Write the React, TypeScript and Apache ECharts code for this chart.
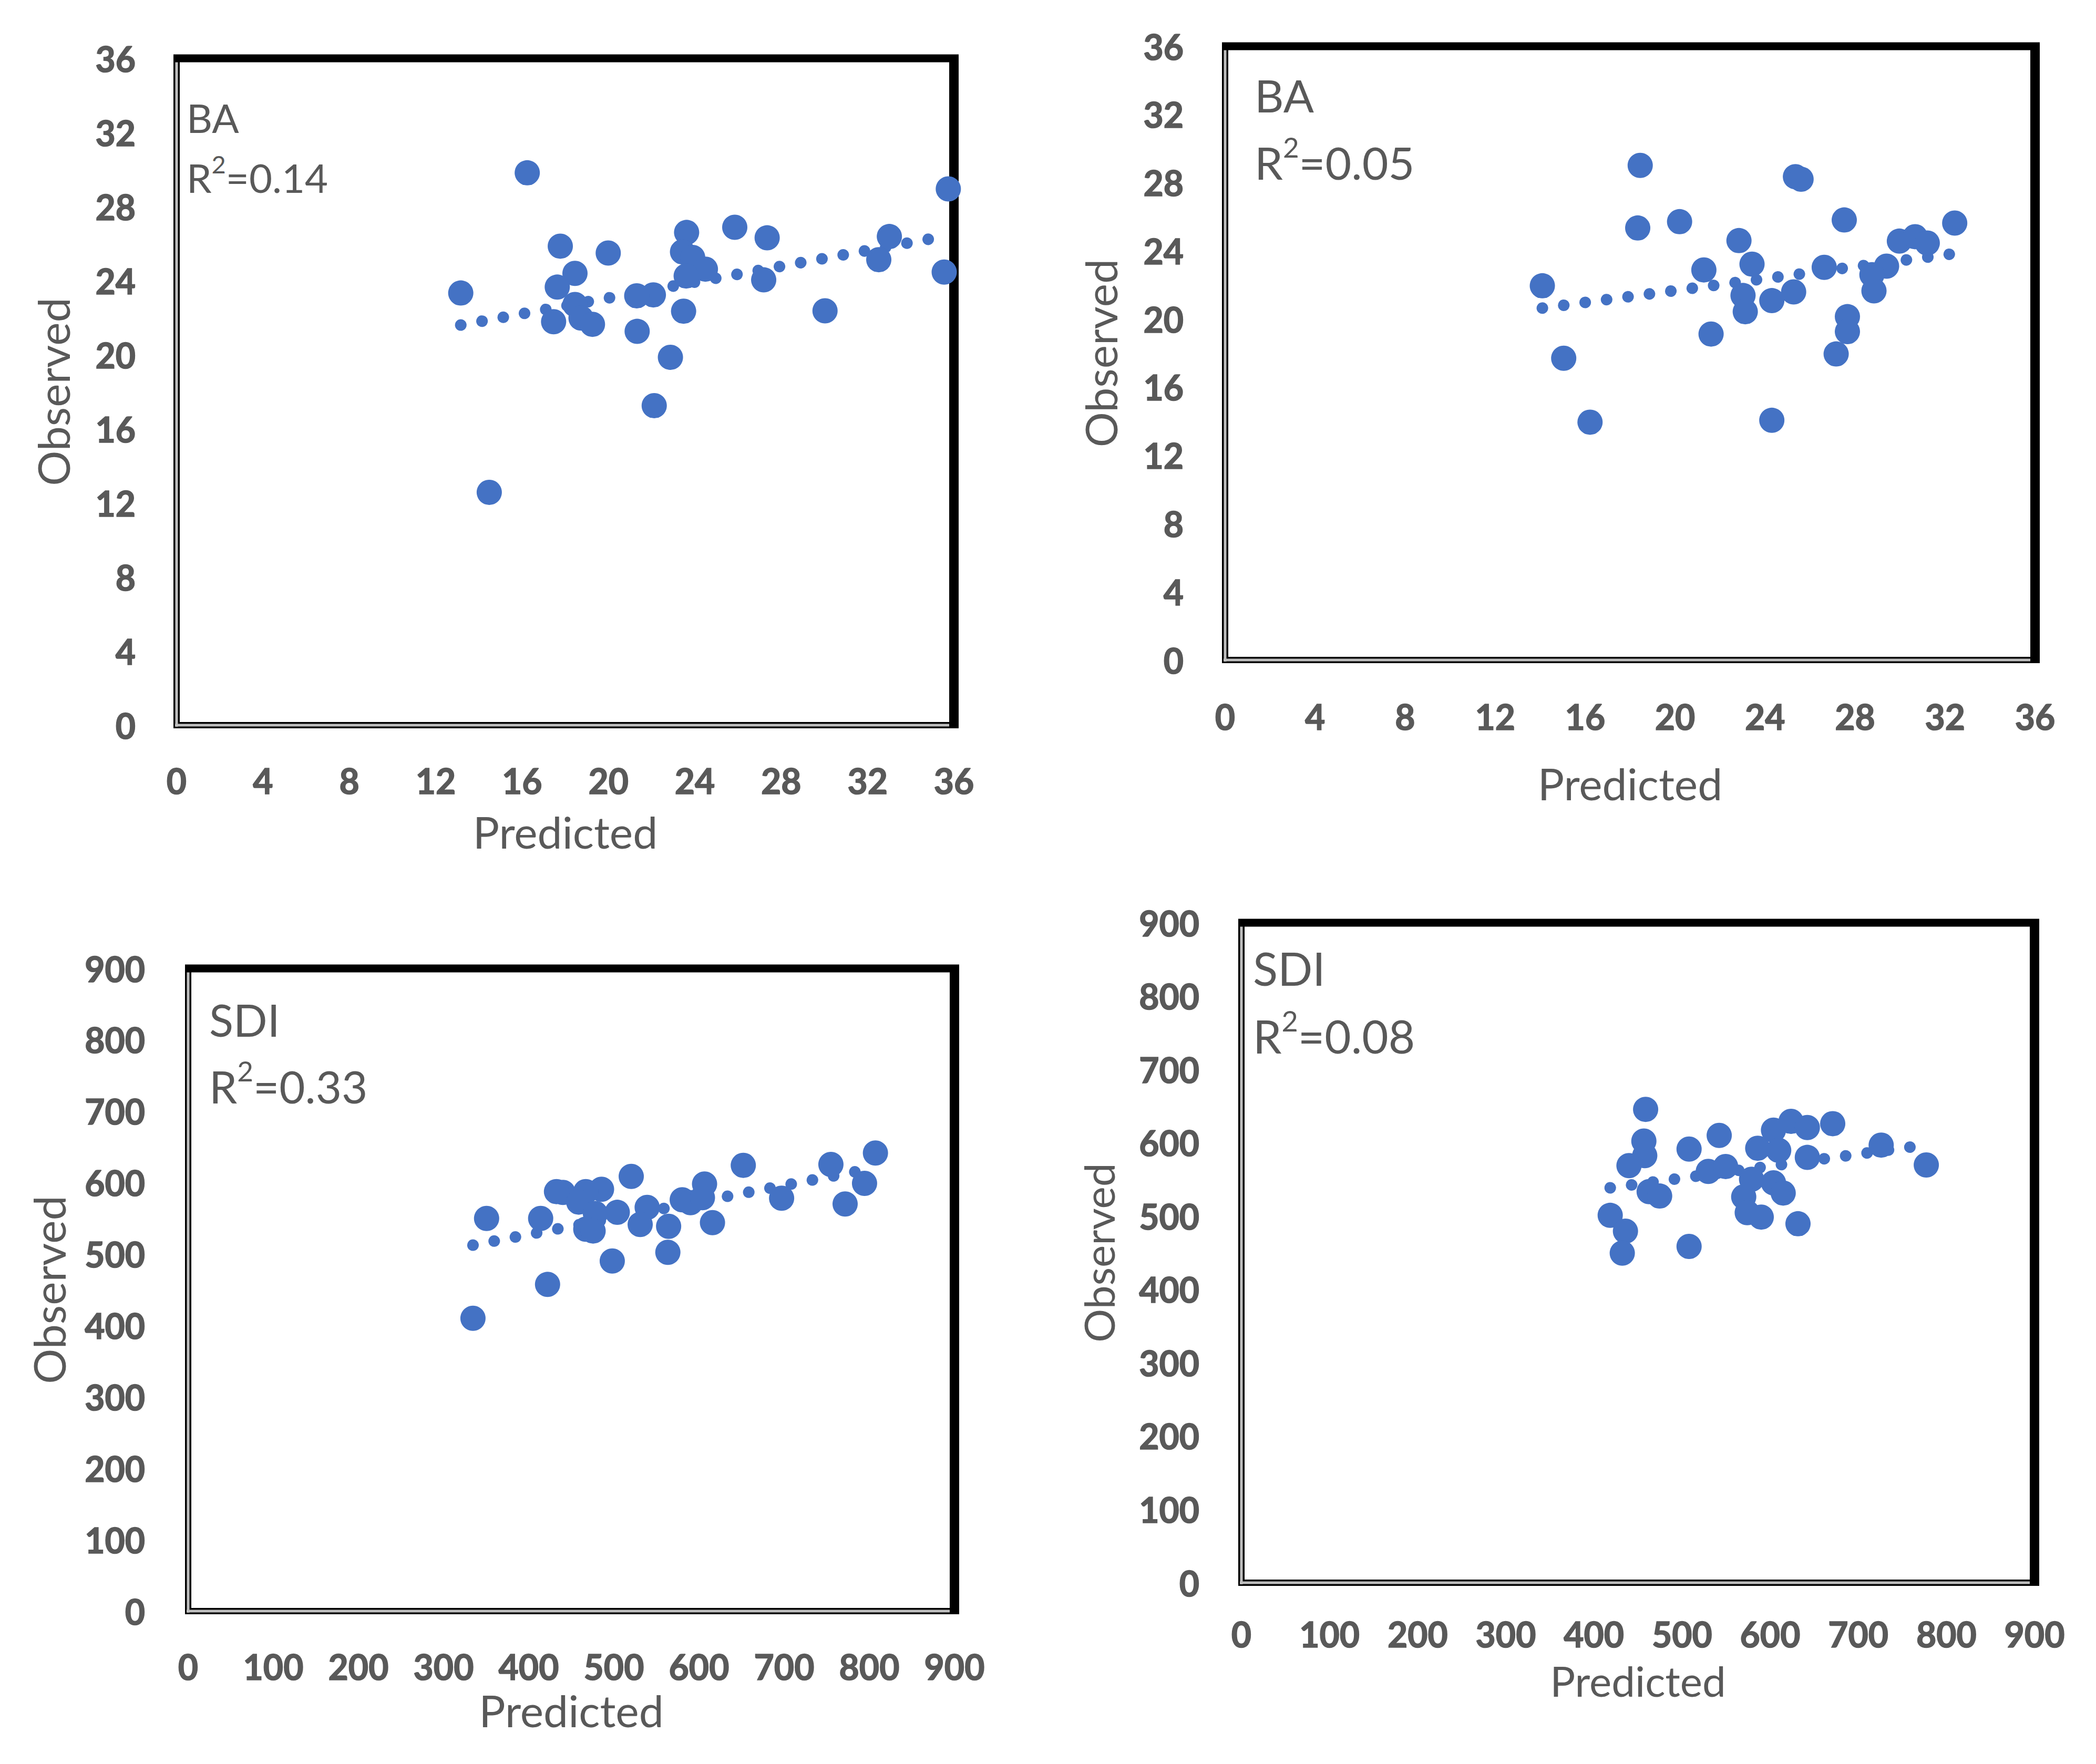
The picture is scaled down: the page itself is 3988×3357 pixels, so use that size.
import React, { useEffect, useRef } from "react";
import * as echarts from "echarts";

const W = 3988;
const H = 3357;

// ---- Panel 1: BA, R2 = 0.14 ----
const ba1Pred = [16.24, 35.74, 25.85, 23.62, 33.01, 27.35, 17.77, 23.43, 19.99, 23.9, 32.52, 24.49, 35.55, 18.45, 23.6, 27.19, 17.63, 13.16, 22.08, 21.31, 18.45, 23.48, 30.03, 18.73, 17.46, 19.26, 21.33, 22.87, 22.12, 14.48];
const ba1Obs = [29.82, 28.95, 26.88, 26.6, 26.38, 26.31, 25.86, 25.55, 25.49, 25.25, 25.13, 24.62, 24.46, 24.39, 24.25, 24.04, 23.65, 23.33, 23.23, 23.18, 22.71, 22.35, 22.37, 21.98, 21.78, 21.64, 21.26, 19.86, 17.25, 12.57];
const ba1TrendX = [13.16, 35.74];
const ba1TrendY = [21.6, 26.43];

// ---- Panel 2: BA, R2 = 0.05 ----
const ba2Pred = [18.45, 25.35, 25.6, 27.52, 32.43, 20.2, 18.34, 29.97, 30.67, 31.21, 22.84, 23.42, 26.63, 29.4, 21.28, 28.75, 14.1, 28.84, 25.27, 23.02, 24.3, 23.12, 27.66, 27.66, 21.6, 27.16, 15.05, 16.22, 24.3];
const ba2Obs = [29.01, 28.35, 28.2, 25.81, 25.63, 25.71, 25.34, 24.57, 24.83, 24.46, 24.6, 23.22, 23.03, 23.1, 22.88, 22.6, 21.95, 21.65, 21.59, 21.38, 21.08, 20.43, 20.14, 19.26, 19.12, 17.95, 17.7, 13.95, 14.06];
const ba2TrendX = [14.1, 32.43];
const ba2TrendY = [20.64, 23.84];

// ---- Panel 3: SDI, R2 = 0.33 ----
const sdi1Pred = [807.2, 652, 754.9, 520.4, 606.5, 794.4, 485.5, 440.2, 432.6, 467, 697, 580.3, 590, 604, 458.7, 771.6, 539.1, 504, 478.3, 414, 350.5, 615.8, 530.9, 564.3, 467, 475.6, 563.4, 498.1, 422.1, 334.5];
const sdi1Obs = [641.5, 624.3, 625.5, 608.8, 598.1, 599, 590.7, 586.3, 587.5, 587.5, 578.2, 576, 572, 579, 572.8, 570.1, 565.4, 558.5, 556.8, 549.9, 549.9, 544, 541.4, 538.9, 534.8, 532.3, 502.4, 490.3, 457.5, 410.1];
const sdi1TrendX = [334.5, 807.2];
const sdi1TrendY = [512.5, 620.7];

// ---- Panel 4: SDI, R2 = 0.08 ----
const sdi2Pred = [458.7, 456.7, 457.7, 439.8, 508, 542.2, 529.8, 549.5, 585.9, 603.8, 623.7, 642.2, 671, 609.7, 642.2, 578.9, 603.8, 614.8, 570, 574, 589.9, 631.6, 726, 777.2, 462.7, 474.6, 418.5, 435.8, 432.2, 508];
const sdi2Obs = [645.5, 602.3, 582.4, 568.8, 591.3, 610, 560.9, 567.6, 592.5, 617.2, 629.2, 620.7, 626, 589.6, 580, 550.1, 545.3, 531.4, 526.2, 504.6, 498.6, 489.5, 596.8, 569.7, 533.3, 527.3, 501, 479.4, 449.5, 458.6];
const sdi2TrendX = [418.5, 777.2];
const sdi2TrendY = [538.5, 597.0];

// ---- Text ----
const panelLabels = ["BA", "BA", "SDI", "SDI"];
const r2Values = ["0.14", "0.05", "0.33", "0.08"];
const axisMax = [36, 36, 900, 900];
const axisStep = [4, 4, 100, 100];
const xTitle = "Predicted";
const yTitle = "Observed";

// ---- Layout (pixels) ----
const layouts = [
  { L: 336, T: 111, R: 1815, B: 1380, yMargin: 78, xMargin: 72, xNameGap: 160, yNameGap: 194, annX: 355, annY1: 223, annY2: 332, annFont: 76, nameFont: 84 },
  { L: 2331, T: 88, R: 3872, B: 1256, yMargin: 79, xMargin: 74, xNameGap: 192, yNameGap: 196, annX: 2387, annY1: 180, annY2: 302, annFont: 86, nameFont: 84 },
  { L: 358, T: 1843, R: 1816, B: 3066, yMargin: 82, xMargin: 72, xNameGap: 146, yNameGap: 224, annX: 398, annY1: 1940, annY2: 2060, annFont: 85, nameFont: 84 },
  { L: 2362, T: 1756, R: 3871, B: 3012, yMargin: 80, xMargin: 64, xNameGap: 146, yNameGap: 232, annX: 2384, annY1: 1842, annY2: 1965, annFont: 87, nameFont: 80 },
];

const BLUE = "#4472C4";
const GRAY_TEXT = "#595959";
const FONT = "Lato, 'Open Sans', sans-serif";

const panelData = [
  { pred: ba1Pred, obs: ba1Obs, tx: ba1TrendX, ty: ba1TrendY },
  { pred: ba2Pred, obs: ba2Obs, tx: ba2TrendX, ty: ba2TrendY },
  { pred: sdi1Pred, obs: sdi1Obs, tx: sdi1TrendX, ty: sdi1TrendY },
  { pred: sdi2Pred, obs: sdi2Obs, tx: sdi2TrendX, ty: sdi2TrendY },
];

function buildOption() {
  const grid: any[] = [];
  const xAxis: any[] = [];
  const yAxis: any[] = [];
  const series: any[] = [];
  const graphic: any[] = [];

  layouts.forEach((p, i) => {
    grid.push({
      left: p.L,
      top: p.T,
      width: p.R - p.L,
      height: p.B - p.T,
      containLabel: false,
      outerBoundsMode: "none",
      show: false,
    });
    const labelStyle = {
      color: GRAY_TEXT,
      fontFamily: FONT,
      fontWeight: "bold",
      fontSize: 66,
      textBorderColor: GRAY_TEXT,
      textBorderWidth: 1.6,
    };
    const nameStyle = { color: GRAY_TEXT, fontFamily: FONT, fontSize: p.nameFont };
    xAxis.push({
      gridIndex: i,
      type: "value",
      min: 0,
      max: axisMax[i],
      interval: axisStep[i],
      axisLine: { show: false },
      axisTick: { show: false },
      splitLine: { show: false },
      axisLabel: { ...labelStyle, margin: p.xMargin, showMinLabel: true, showMaxLabel: true },
      name: xTitle,
      nameLocation: "middle",
      nameGap: p.xNameGap,
      nameTextStyle: nameStyle,
    });
    yAxis.push({
      gridIndex: i,
      type: "value",
      min: 0,
      max: axisMax[i],
      interval: axisStep[i],
      axisLine: { show: false },
      axisTick: { show: false },
      splitLine: { show: false },
      axisLabel: { ...labelStyle, margin: p.yMargin, showMinLabel: true, showMaxLabel: true },
      name: yTitle,
      nameLocation: "middle",
      nameGap: p.yNameGap,
      nameTextStyle: nameStyle,
    });

    const d = panelData[i];
    series.push({
      type: "line",
      xAxisIndex: i,
      yAxisIndex: i,
      data: [
        [d.tx[0], d.ty[0]],
        [d.tx[1], d.ty[1]],
      ],
      showSymbol: false,
      symbol: "none",
      silent: true,
      z: 1,
      lineStyle: { color: BLUE, width: 22, type: [0.1, 41], cap: "round", opacity: 1 },
    });
    series.push({
      type: "scatter",
      xAxisIndex: i,
      yAxisIndex: i,
      data: d.pred.map((x, j) => [x, d.obs[j]]),
      symbol: "circle",
      symbolSize: 48,
      z: 3,
      itemStyle: { color: BLUE, opacity: 1 },
    });

    // Frame: double grey line on left/bottom, thick black on top/right
    graphic.push(
      { type: "line", z: 0, shape: { x1: p.L, y1: p.T, x2: p.L, y2: p.B + 6 }, style: { stroke: "#000", lineWidth: 12 } },
      { type: "line", z: 0, shape: { x1: p.L - 6, y1: p.B, x2: p.R, y2: p.B }, style: { stroke: "#000", lineWidth: 12 } },
      { type: "line", z: 1, shape: { x1: p.L, y1: p.T + 4, x2: p.L, y2: p.B + 3 }, style: { stroke: "#BFBFBF", lineWidth: 5 } },
      { type: "line", z: 1, shape: { x1: p.L - 3, y1: p.B, x2: p.R - 4, y2: p.B }, style: { stroke: "#BFBFBF", lineWidth: 5 } },
      { type: "line", z: 2, shape: { x1: p.L - 6, y1: p.T, x2: p.R + 9, y2: p.T }, style: { stroke: "#000", lineWidth: 15 } },
      { type: "line", z: 2, shape: { x1: p.R, y1: p.T - 7, x2: p.R, y2: p.B + 6 }, style: { stroke: "#000", lineWidth: 18 } }
    );

    // Annotations
    graphic.push({
      type: "text",
      z: 10,
      x: p.annX,
      y: p.annY1,
      style: {
        text: panelLabels[i],
        fill: GRAY_TEXT,
        fontFamily: FONT,
        fontSize: p.annFont,
        align: "left",
        verticalAlign: "middle",
      },
    });
    graphic.push({
      type: "text",
      z: 10,
      x: p.annX,
      y: p.annY2,
      style: {
        text: "{n|R}{s|2}{n|=" + r2Values[i] + "}",
        fill: GRAY_TEXT,
        fontFamily: FONT,
        fontSize: p.annFont,
        align: "left",
        verticalAlign: "middle",
        rich: {
          n: { fontSize: p.annFont, lineHeight: Math.round(p.annFont * 1.15), fill: GRAY_TEXT, fontFamily: FONT, verticalAlign: "bottom" },
          s: { fontSize: Math.round(p.annFont * 0.62), lineHeight: Math.round(p.annFont * 0.62), fill: GRAY_TEXT, fontFamily: FONT, verticalAlign: "top" },
        },
      },
    });
  });

  return {
    animation: false,
    backgroundColor: "#ffffff",
    grid,
    xAxis,
    yAxis,
    series,
    graphic: { elements: graphic },
  };
}

export default function App() {
  const ref = useRef<HTMLDivElement>(null);
  useEffect(() => {
    if (!ref.current) return;
    const chart = echarts.init(ref.current, null, { renderer: "svg", width: W, height: H });
    chart.setOption(buildOption() as any);
    return () => {
      chart.dispose();
    };
  }, []);
  return (
    <div
      ref={ref}
      style={{ position: "absolute", left: 0, top: 0, width: W, height: H, background: "#ffffff" }}
    />
  );
}
